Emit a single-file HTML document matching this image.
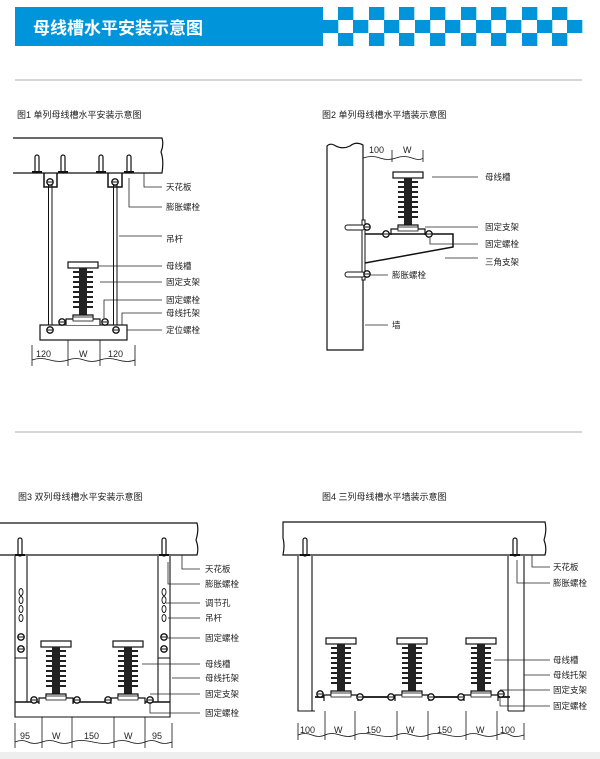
<!DOCTYPE html>
<html><head><meta charset="utf-8"><style>
html,body{margin:0;padding:0;background:#fff;}
svg{display:block;}
text{font-family:"Liberation Sans","Noto Sans CJK SC",sans-serif;fill:#222;}
.t{font-size:9px;}
.lb{font-size:8.5px;}
.d{font-size:9px;}
</style></head><body>
<svg width="600" height="759" viewBox="0 0 600 759" xmlns="http://www.w3.org/2000/svg">
<defs>
<g id="ins">
 <rect x="-15" y="0" width="30" height="6" fill="#fff" stroke="#111" stroke-width="1.2"/>
 <rect x="-4" y="6" width="8" height="48" fill="#222"/>
 <g stroke="#222" stroke-width="2">
  <line x1="-10" y1="10" x2="10" y2="10"/><line x1="-10" y1="15" x2="10" y2="15"/>
  <line x1="-10" y1="20" x2="10" y2="20"/><line x1="-10" y1="25" x2="10" y2="25"/>
  <line x1="-10" y1="30" x2="10" y2="30"/><line x1="-10" y1="35" x2="10" y2="35"/>
  <line x1="-10" y1="40" x2="10" y2="40"/><line x1="-10" y1="45" x2="10" y2="45"/>
 </g>
 <path d="M-17 63 V57 H-10 V53 H10 V57 H17 V63" fill="#fff" stroke="#111" stroke-width="1.2"/>
 <rect x="-10" y="55" width="20" height="4" fill="#fff" stroke="#111" stroke-width="0.8"/>
</g>
<g id="nut"><circle r="3.2" fill="#fff" stroke="#111" stroke-width="1.3"/><line x1="-3" y1="0" x2="3" y2="0" stroke="#111"/></g>
<g id="bolt"><rect x="-2" y="-18" width="4" height="18" rx="2" fill="#fff" stroke="#111" stroke-width="1.2"/><line x1="-5" y1="-1" x2="5" y2="-1" stroke="#111" stroke-width="2"/></g>
</defs>

<!-- header -->
<rect x="15" y="7" width="308" height="39" fill="#0094db"/>
<text x="33" y="34" style="font-size:17px;font-weight:bold;fill:#fff;">母线槽水平安装示意图</text>
<g fill="#0094db">
<rect x="338" y="7" width="15.3" height="13"/><rect x="369" y="7" width="15.3" height="13"/><rect x="399" y="7" width="15.3" height="13"/><rect x="430" y="7" width="15.3" height="13"/><rect x="461" y="7" width="15.3" height="13"/><rect x="491" y="7" width="15.3" height="13"/><rect x="522" y="7" width="15.3" height="13"/><rect x="552" y="7" width="15.3" height="13"/>
<rect x="323" y="20" width="15.3" height="13"/><rect x="353" y="20" width="15.3" height="13"/><rect x="384" y="20" width="15.3" height="13"/><rect x="415" y="20" width="15.3" height="13"/><rect x="445" y="20" width="15.3" height="13"/><rect x="476" y="20" width="15.3" height="13"/><rect x="506" y="20" width="15.3" height="13"/><rect x="537" y="20" width="15.3" height="13"/><rect x="567" y="20" width="15.3" height="13"/>
<rect x="338" y="33" width="15.3" height="13"/><rect x="369" y="33" width="15.3" height="13"/><rect x="399" y="33" width="15.3" height="13"/><rect x="430" y="33" width="15.3" height="13"/><rect x="461" y="33" width="15.3" height="13"/><rect x="491" y="33" width="15.3" height="13"/><rect x="522" y="33" width="15.3" height="13"/><rect x="552" y="33" width="15.3" height="13"/>
</g>
<line x1="15" y1="80" x2="582" y2="80" stroke="#c8c8c8" stroke-width="1.5"/>
<line x1="15" y1="432" x2="582" y2="432" stroke="#c8c8c8" stroke-width="1.5"/>
<rect x="0" y="752" width="600" height="7" fill="#eee"/>

<!-- FIG 1 -->
<text class="t" x="17" y="118">图1 单列母线槽水平安装示意图</text>
<path d="M13 138 H162 Q164 145 161 152 Q164 160 162 173 H13" fill="none" stroke="#111" stroke-width="1.2"/>
<use href="#bolt" x="37" y="173"/><use href="#bolt" x="63" y="173"/><use href="#bolt" x="101" y="173"/><use href="#bolt" x="129" y="173"/>
<path d="M44 173 V187 H57 V173" fill="none" stroke="#111" stroke-width="1.5"/>
<path d="M108 173 V187 H122 V173" fill="none" stroke="#111" stroke-width="1.5"/>
<use href="#nut" x="50" y="182"/><use href="#nut" x="115" y="182"/>
<g stroke="#111" stroke-width="1"><line x1="48.5" y1="184" x2="48.5" y2="327"/><line x1="52" y1="184" x2="52" y2="327"/><line x1="113.5" y1="184" x2="113.5" y2="327"/><line x1="117" y1="184" x2="117" y2="327"/></g>
<rect x="40" y="325" width="87" height="15" fill="#fff" stroke="#111" stroke-width="1.2"/>
<use href="#ins" x="83" y="262"/>
<use href="#nut" x="50" y="330"/><use href="#nut" x="62" y="322"/><use href="#nut" x="105" y="322"/><use href="#nut" x="116" y="330"/>
<g fill="none" stroke="#222" stroke-width="0.8">
<path d="M144 173 V187 H162"/><path d="M129 178 V207 H162"/><path d="M119 236 H162"/><path d="M98 266 H162"/><path d="M100 282 V282 H162"/><path d="M104 318 V300 H162"/><path d="M122 325 V313 H162"/><path d="M127 330 H162"/>
</g>
<g class="lb"><text x="166" y="190">天花板</text><text x="166" y="210">膨胀螺栓</text><text x="166" y="242">吊杆</text><text x="166" y="269">母线槽</text><text x="166" y="285">固定支架</text><text x="166" y="303">固定螺栓</text><text x="166" y="316">母线托架</text><text x="166" y="333">定位螺栓</text></g>
<g stroke="#111" stroke-width="0.8"><line x1="32" y1="345" x2="32" y2="366"/><line x1="68" y1="340" x2="68" y2="366"/><line x1="100" y1="340" x2="100" y2="366"/><line x1="135" y1="345" x2="135" y2="366"/><path d="M32 360 Q40 357 50 360 T68 360 T84 360 T100 360 T118 360 T135 360" fill="none"/></g>
<g class="d"><text x="36" y="357">120</text><text x="79" y="357">W</text><text x="108" y="357">120</text></g>

<!-- FIG 2 -->
<text class="t" x="322" y="118">图2 单列母线槽水平墙装示意图</text>
<path d="M363 145 Q356 141 350 146 Q342 150 334 145 Q330 143 327 146 V350 H363 Z" fill="none" stroke="#111" stroke-width="1.2"/>
<g stroke="#111" stroke-width="0.8"><line x1="363" y1="150" x2="363" y2="162"/><line x1="392" y1="150" x2="392" y2="162"/><line x1="423" y1="150" x2="423" y2="162"/><path d="M363 158 Q372 155 380 158 T396 158 T412 158 T423 158" fill="none"/></g>
<g class="d"><text x="369" y="153">100</text><text x="403" y="153">W</text></g>
<rect x="362" y="220" width="3" height="60" fill="#fff" stroke="#111"/>
<use href="#ins" x="408" y="172"/>
<path d="M365 234 H453 V243" fill="none" stroke="#111" stroke-width="1.5"/>
<path d="M365 263 L453 247 V243" fill="none" stroke="#111" stroke-width="1.5"/>
<rect x="345" y="225" width="20" height="5" rx="2.5" fill="#fff" stroke="#111"/><rect x="345" y="272" width="20" height="5" rx="2.5" fill="#fff" stroke="#111"/>
<use href="#nut" x="367" y="227"/><use href="#nut" x="367" y="274"/><use href="#nut" x="386" y="234"/><use href="#nut" x="429" y="234"/>
<g fill="none" stroke="#222" stroke-width="0.8"><path d="M432 177 H478"/><path d="M425 227 H478"/><path d="M430 238 V244 H478"/><path d="M445 258 H478"/><path d="M370 275 H388"/><path d="M365 325 H388"/></g>
<g class="lb"><text x="485" y="180">母线槽</text><text x="485" y="230">固定支架</text><text x="485" y="247">固定螺栓</text><text x="485" y="265">三角支架</text><text x="392" y="278">膨胀螺栓</text><text x="392" y="328">墙</text></g>

<!-- FIG 3 -->
<text class="t" x="18" y="500">图3 双列母线槽水平安装示意图</text>
<path d="M0 523 H197 Q199 530 196 540 Q199 548 197 555 H0" fill="none" stroke="#111" stroke-width="1.2"/>
<use href="#bolt" x="20" y="556"/><use href="#bolt" x="164" y="556"/>
<g fill="none" stroke="#111" stroke-width="1.1">
<path d="M15 556 V717 H170 V556"/><path d="M27 556 V658 H15"/><path d="M158 556 V658 H170"/>
<line x1="27" y1="658" x2="27" y2="702"/><line x1="158" y1="658" x2="158" y2="702"/>
<line x1="15" y1="702" x2="170" y2="702" stroke-width="1.5"/>
</g>
<g fill="none" stroke="#111" stroke-width="0.9">
<ellipse cx="21" cy="592" rx="2" ry="3.5"/><ellipse cx="21" cy="600" rx="2" ry="3.5"/><ellipse cx="21" cy="609" rx="2" ry="3.5"/><ellipse cx="21" cy="618" rx="2" ry="3.5"/>
<ellipse cx="164" cy="592" rx="2" ry="3.5"/><ellipse cx="164" cy="600" rx="2" ry="3.5"/><ellipse cx="164" cy="609" rx="2" ry="3.5"/><ellipse cx="164" cy="618" rx="2" ry="3.5"/>
</g>
<use href="#nut" x="21" y="637"/><use href="#nut" x="21" y="649"/><use href="#nut" x="164" y="637"/><use href="#nut" x="164" y="649"/>
<use href="#ins" x="56" y="641"/><use href="#ins" x="128" y="641"/>
<use href="#nut" x="34" y="700"/><use href="#nut" x="77" y="700"/><use href="#nut" x="108" y="700"/><use href="#nut" x="150" y="700"/>
<g fill="none" stroke="#222" stroke-width="0.8"><path d="M182 555 V569 H200"/><path d="M168 562 V584 H200"/><path d="M166 603 H200"/><path d="M168 618 H200"/><path d="M168 638 H200"/><path d="M142 664 H200"/><path d="M172 678 H200"/><path d="M150 694 H200"/><path d="M150 702 V713 H200"/></g>
<g class="lb"><text x="205" y="572">天花板</text><text x="205" y="587">膨胀螺栓</text><text x="205" y="606">调节孔</text><text x="205" y="621">吊杆</text><text x="205" y="641">固定螺栓</text><text x="205" y="667">母线槽</text><text x="205" y="681">母线托架</text><text x="205" y="697">固定支架</text><text x="205" y="716">固定螺栓</text></g>
<g stroke="#111" stroke-width="0.8"><line x1="15" y1="723" x2="15" y2="748"/><line x1="42" y1="717" x2="42" y2="748"/><line x1="72" y1="717" x2="72" y2="748"/><line x1="114" y1="717" x2="114" y2="748"/><line x1="145" y1="717" x2="145" y2="748"/><line x1="172" y1="723" x2="172" y2="748"/><path d="M15 742 Q22 739 28 742 T42 742 T57 742 T72 742 T93 742 T114 742 T130 742 T145 742 T158 742 T172 742" fill="none"/></g>
<g class="d"><text x="20" y="739">95</text><text x="52" y="739">W</text><text x="84" y="739">150</text><text x="124" y="739">W</text><text x="152" y="739">95</text></g>

<!-- FIG 4 -->
<text class="t" x="322" y="500">图4 三列母线槽水平墙装示意图</text>
<path d="M283 522 H545 Q547 530 544 540 Q547 548 545 555 H283 Q285 545 283 538 Z" fill="none" stroke="#111" stroke-width="1.2"/>
<use href="#bolt" x="305" y="556"/><use href="#bolt" x="515" y="556"/>
<g fill="none" stroke="#111" stroke-width="1.1">
<path d="M298 556 V711 H315"/><line x1="312" y1="556" x2="312" y2="711"/>
<path d="M524 556 V711 H508"/><line x1="508" y1="556" x2="508" y2="711"/>
<line x1="315" y1="697" x2="510" y2="697" stroke-width="1.8"/>
</g>
<use href="#ins" x="341" y="638"/><use href="#ins" x="412" y="638"/><use href="#ins" x="481" y="638"/>
<use href="#nut" x="320" y="694"/><use href="#nut" x="360" y="697"/><use href="#nut" x="391" y="697"/><use href="#nut" x="431" y="697"/><use href="#nut" x="461" y="697"/><use href="#nut" x="501" y="694"/>
<g fill="none" stroke="#222" stroke-width="0.8"><path d="M532 555 V567 H550"/><path d="M517 560 V583 H550"/><path d="M494 660 H550"/><path d="M524 675 H550"/><path d="M500 690 H550"/><path d="M500 697 V706 H550"/></g>
<g class="lb"><text x="553" y="570">天花板</text><text x="553" y="586">膨胀螺栓</text><text x="553" y="663">母线槽</text><text x="553" y="678">母线托架</text><text x="553" y="693">固定支架</text><text x="553" y="709">固定螺栓</text></g>
<g stroke="#111" stroke-width="0.8"><line x1="298" y1="723" x2="298" y2="740"/><line x1="325" y1="711" x2="325" y2="740"/><line x1="355" y1="711" x2="355" y2="740"/><line x1="397" y1="711" x2="397" y2="740"/><line x1="428" y1="711" x2="428" y2="740"/><line x1="466" y1="711" x2="466" y2="740"/><line x1="497" y1="711" x2="497" y2="740"/><line x1="524" y1="723" x2="524" y2="740"/><path d="M298 735 Q305 732 312 735 T325 735 T340 735 T355 735 T376 735 T397 735 T412 735 T428 735 T447 735 T466 735 T481 735 T497 735 T510 735 T524 735" fill="none"/></g>
<g class="d"><text x="300" y="733">100</text><text x="334" y="733">W</text><text x="366" y="733">150</text><text x="406" y="733">W</text><text x="437" y="733">150</text><text x="476" y="733">W</text><text x="500" y="733">100</text></g>
</svg>
</body></html>
